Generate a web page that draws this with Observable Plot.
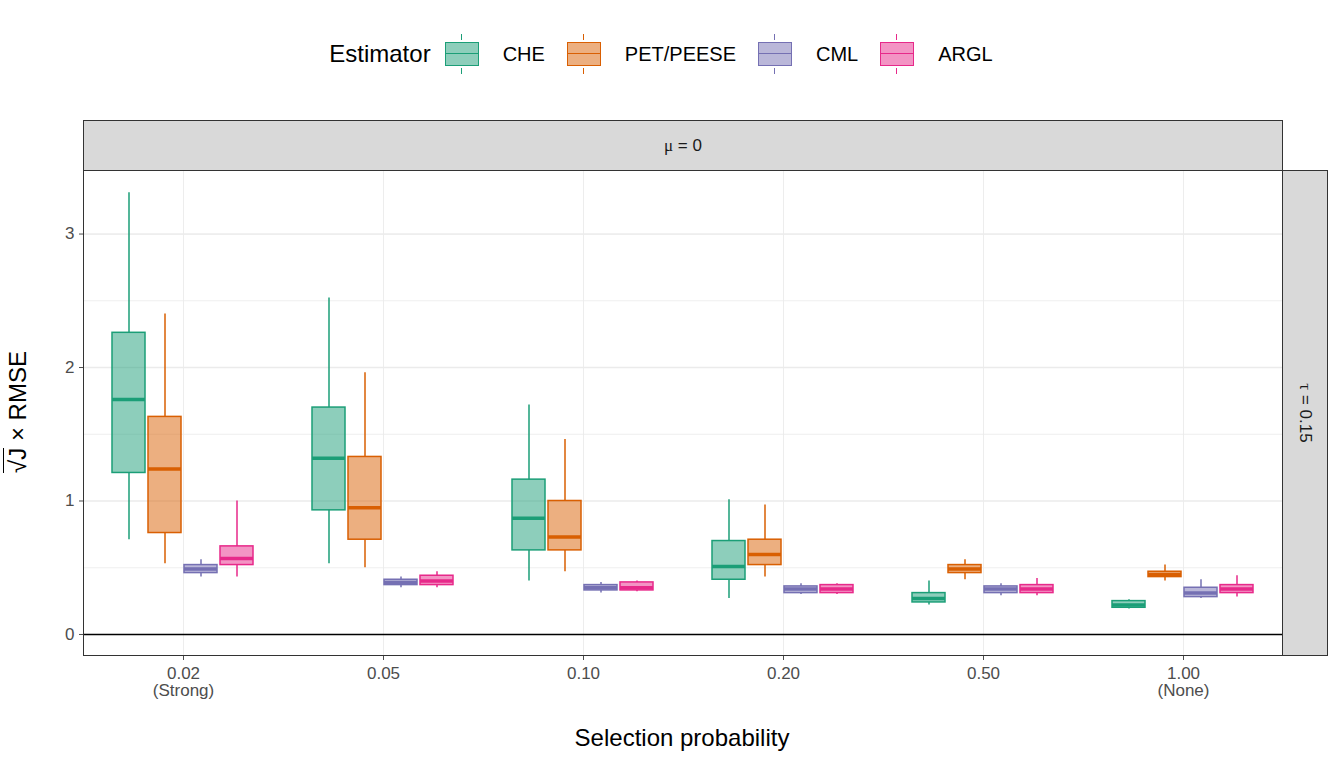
<!DOCTYPE html>
<html>
<head>
<meta charset="utf-8">
<script src="https://cdn.jsdelivr.net/npm/d3@7"></script>
<script src="https://cdn.jsdelivr.net/npm/@observablehq/plot@0.6"></script>
<style>
  body { margin: 0; background: #fff; font-family: Arial, "Liberation Sans", sans-serif; }
  #wrap { position: relative; width: 1344px; height: 768px; }
  #chart { position: absolute; left: 0; top: 0; }
  #chart svg text { font-size: 17px !important; fill: #4d4d4d; }
  .abs { position: absolute; }
  .strip { background: #d9d9d9; border: 1.5px solid #333; box-sizing: border-box; display: flex; align-items: center; justify-content: center; font-size: 17px; color: #1a1a1a; }
  .key { display: inline-block; width: 34px; height: 24px; box-sizing: border-box; position: relative; vertical-align: middle; }
</style>
</head>
<body>
<div id="wrap">
  <div id="chart"></div>
</div>
<script>
// Selection probabilities and estimators
const groups = ["0.02", "0.05", "0.10", "0.20", "0.50", "1.00"];
const groupLabels = ["0.02\n(Strong)", "0.05", "0.10", "0.20", "0.50", "1.00\n(None)"];
const estimators = ["CHE", "PET/PEESE", "CML", "ARGL"];
const colors = ["#1b9e77", "#d95f02", "#7570b3", "#e7298a"];

// Box stats per estimator, one entry per group: [low, q1, median, q3, high]
const che = [[0.71, 1.21, 1.76, 2.26, 3.31], [0.53, 0.93, 1.32, 1.70, 2.52], [0.40, 0.63, 0.87, 1.16, 1.72],
             [0.27, 0.41, 0.51, 0.70, 1.01], [0.22, 0.24, 0.27, 0.31, 0.40], [0.19, 0.20, 0.22, 0.25, 0.26]];
const pet = [[0.53, 0.76, 1.24, 1.63, 2.40], [0.50, 0.71, 0.95, 1.33, 1.96], [0.47, 0.63, 0.73, 1.00, 1.46],
             [0.43, 0.52, 0.60, 0.71, 0.97], [0.41, 0.46, 0.49, 0.52, 0.56], [0.40, 0.43, 0.45, 0.47, 0.52]];
const cml = [[0.43, 0.46, 0.49, 0.52, 0.56], [0.35, 0.37, 0.39, 0.41, 0.43], [0.31, 0.33, 0.35, 0.37, 0.39],
             [0.30, 0.31, 0.34, 0.36, 0.38], [0.29, 0.31, 0.34, 0.36, 0.38], [0.27, 0.28, 0.31, 0.35, 0.41]];
const argl = [[0.43, 0.52, 0.57, 0.66, 1.00], [0.35, 0.37, 0.40, 0.44, 0.47], [0.32, 0.33, 0.35, 0.39, 0.40],
              [0.30, 0.31, 0.34, 0.37, 0.38], [0.29, 0.31, 0.34, 0.37, 0.42], [0.28, 0.31, 0.34, 0.37, 0.44]];

const series = [che, pet, cml, argl];
const rows = [];
series.forEach((s, ei) => s.forEach((v, gi) => rows.push({
  group: groups[gi], est: estimators[ei], low: v[0], q1: v[1], med: v[2], q3: v[3], high: v[4]
})));

const color = {domain: estimators, range: colors};

const chart = Plot.plot({
  width: 1344, height: 768,
  marginLeft: 83, marginRight: 61, marginTop: 170, marginBottom: 112,
  style: {fontFamily: "Arial, 'Liberation Sans', sans-serif", fontSize: "17px", color: "#4d4d4d"},
  fx: {domain: groups, padding: 0, paddingOuter: 0, label: null,
       tickFormat: (d) => groupLabels[groups.indexOf(d)], tickSize: 4, tickPadding: 6, grid: true},
  x: {domain: estimators, axis: null, paddingInner: 0.07, paddingOuter: 0.8},
  y: {domain: [-0.165, 3.476], ticks: [0, 1, 2, 3], tickSize: 4, label: null, tickFormat: d3.format("d")},
  color,
  marks: [
    Plot.gridY([0.5, 1.5, 2.5, 3], {stroke: "#ebebeb", strokeOpacity: 1, strokeWidth: 0.8}),
    Plot.gridY([1, 2, 3], {stroke: "#ebebeb", strokeOpacity: 1, strokeWidth: 1.3}),
    Plot.ruleY([0], {stroke: "#000", strokeWidth: 1.5}),
    Plot.ruleX(rows, {fx: "group", x: "est", y1: "low", y2: "q1", stroke: "est", strokeWidth: 1.5}),
    Plot.ruleX(rows, {fx: "group", x: "est", y1: "q3", y2: "high", stroke: "est", strokeWidth: 1.5}),
    Plot.barY(rows, {fx: "group", x: "est", y1: "q1", y2: "q3", fill: "est", fillOpacity: 0.5, stroke: "est", strokeWidth: 1.5}),
    Plot.tickY(rows, {fx: "group", x: "est", y: "med", stroke: "est", strokeWidth: 3.5})
  ]
});
d3.select("#chart").append(() => chart);

const wrap = d3.select("#wrap");
// panel border
wrap.append("div").attr("class", "abs")
  .style("left", "83px").style("top", "170px").style("width", "1200px").style("height", "486px")
  .style("border", "1.5px solid #333").style("box-sizing", "border-box");
// strips
wrap.append("div").attr("class", "abs strip")
  .style("left", "83px").style("top", "120px").style("width", "1200px").style("height", "51px")
  .html("<span style='font-family:serif'>μ</span>&nbsp;= 0");
wrap.append("div").attr("class", "abs strip")
  .style("left", "1282px").style("top", "170px").style("width", "46px").style("height", "486px")
  .html("<span style='transform:rotate(90deg);white-space:nowrap'><span style='font-family:serif'>τ</span> = 0.15</span>");
// axis titles
wrap.append("div").attr("class", "abs")
  .style("left", "0px").style("width", "1344px").style("top", "724px").style("text-align", "center")
  .style("padding-left", "20px").style("box-sizing", "border-box")
  .style("font-size", "24px").style("color", "#000").text("Selection probability");
wrap.append("div").attr("class", "abs")
  .style("left", "-62px").style("top", "398px").style("width", "160px").style("text-align", "center")
  .style("transform", "rotate(-90deg)").style("font-size", "24px").style("color", "#000")
  .html("<span style='border-top:1.5px solid #000'>&radic;J</span> × RMSE");
// legend
const leg = wrap.append("div").attr("class", "abs")
  .style("left", "0px").style("width", "1344px").style("top", "40px").style("text-align", "center")
  .style("font-size", "20px").style("color", "#000");
leg.append("span").style("font-size", "24px").style("margin-right", "14px").style("vertical-align", "middle").text("Estimator");
estimators.forEach((e, i) => {
  const c = colors[i];
  leg.append("span").attr("class", "key")
    .style("border", `1.5px solid ${c}`).style("background", d3.color(c).copy({opacity: 0.5}).toString())
    .html(`<div style="position:absolute;left:0;right:0;top:10px;border-top:1.5px solid ${c}"></div>
           <div style="position:absolute;left:15px;top:-9px;height:6px;border-left:1.5px solid ${c}"></div>
           <div style="position:absolute;left:15px;bottom:-9px;height:6px;border-left:1.5px solid ${c}"></div>`);
  leg.append("span").style("margin", "0 22px 0 24px").style("vertical-align", "middle").text(e);
});
</script>
</body>
</html>
